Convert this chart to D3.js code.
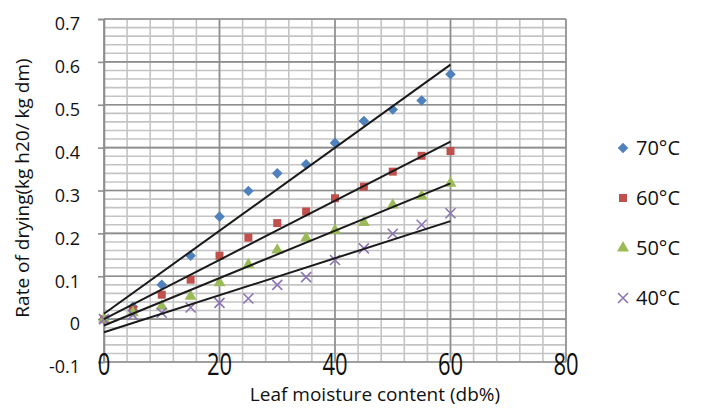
<!DOCTYPE html>
<html>
<head>
<meta charset="utf-8">
<script src="https://cdn.jsdelivr.net/npm/d3@7"></script>
<style>
  body { margin: 0; background: #fff; }
  text { font-family: "Open Sans", sans-serif; fill: #111; }
</style>
</head>
<body>
<div id="chart"></div>
<script>
// leaf moisture content (db%)
const moisture = [0, 5, 10, 15, 20, 25, 30, 35, 40, 45, 50, 55, 60];
// rate of drying per temperature
const rate70 = [0, 0.029, 0.08, 0.148, 0.239, 0.299, 0.34, 0.361, 0.411, 0.462, 0.489, 0.51, 0.571];
const rate60 = [0, 0.022, 0.057, 0.092, 0.148, 0.19, 0.224, 0.251, 0.282, 0.309, 0.344, 0.381, 0.392];
const rate50 = [0, 0.015, 0.03, 0.053, 0.085, 0.127, 0.161, 0.189, 0.207, 0.225, 0.266, 0.287, 0.317];
const rate40 = [0, 0.01, 0.015, 0.027, 0.038, 0.048, 0.08, 0.098, 0.138, 0.165, 0.199, 0.22, 0.247];
const seriesNames = ["70°C", "60°C", "50°C", "40°C"];
const xTicks = [0, 20, 40, 60, 80];
const yTicks = [-0.1, 0, 0.1, 0.2, 0.3, 0.4, 0.5, 0.6, 0.7];

const series = [
  { name: seriesNames[0], values: rate70, color: "#4f81bd", symbol: "diamond" },
  { name: seriesNames[1], values: rate60, color: "#c0504d", symbol: "square" },
  { name: seriesNames[2], values: rate50, color: "#9bbb59", symbol: "triangle" },
  { name: seriesNames[3], values: rate40, color: "#8c74b4", symbol: "cross" }
];

const width = 701, height = 409;
const plot = { left: 104, right: 566, top: 19, bottom: 362 };

const x = d3.scaleLinear().domain([0, 80]).range([plot.left, plot.right]);
const y = d3.scaleLinear().domain([-0.1, 0.7]).range([plot.bottom, plot.top]);

const svg = d3.select("#chart").append("svg")
  .attr("width", width)
  .attr("height", height);

// minor grid
const grid = svg.append("g");
grid.selectAll(".vminor")
  .data(d3.range(0, 81, 4))
  .enter().append("line")
  .attr("x1", d => x(d)).attr("x2", d => x(d))
  .attr("y1", plot.top).attr("y2", plot.bottom)
  .attr("stroke", "#c4c4c4").attr("stroke-width", 1.6);
grid.selectAll(".hminor")
  .data(d3.range(-0.1, 0.7001, 0.02))
  .enter().append("line")
  .attr("x1", plot.left).attr("x2", plot.right)
  .attr("y1", d => y(d)).attr("y2", d => y(d))
  .attr("stroke", "#c4c4c4").attr("stroke-width", 1.6);

// major grid
grid.selectAll(".vmajor")
  .data(xTicks)
  .enter().append("line")
  .attr("x1", d => x(d)).attr("x2", d => x(d))
  .attr("y1", plot.top).attr("y2", plot.bottom)
  .attr("stroke", "#8e8e8e").attr("stroke-width", 1.6);
grid.selectAll(".hmajor")
  .data(yTicks)
  .enter().append("line")
  .attr("x1", plot.left).attr("x2", plot.right)
  .attr("y1", d => y(d)).attr("y2", d => y(d))
  .attr("stroke", "#8e8e8e").attr("stroke-width", 1.6);

// y axis
const yAxis = svg.append("g")
  .attr("transform", `translate(${plot.left},0)`)
  .call(d3.axisLeft(y).tickValues(yTicks).tickSize(6).tickPadding(18)
    .tickFormat(d => String(+d.toFixed(1))));
yAxis.select(".domain").attr("stroke", "#8e8e8e").attr("stroke-width", 1.6);
yAxis.selectAll(".tick line").attr("stroke", "#8e8e8e").attr("stroke-width", 1.6);
yAxis.selectAll(".tick text")
  .style("font-size", "18px")
  .attr("dy", "0.6em")
  .style("font-family", "'Open Sans', sans-serif");

// x tick labels sit on the bottom line, stretched a bit vertically like the picture
svg.append("g").selectAll("text")
  .data(xTicks)
  .enter().append("text")
  .attr("transform", d => `translate(${x(d)},${plot.bottom + 2}) scale(1,1.4)`)
  .attr("text-anchor", "middle")
  .attr("dy", "0.36em")
  .style("font-size", "22px")
  .text(d => d);

// axis titles
svg.append("text")
  .attr("x", 375).attr("y", 401)
  .attr("text-anchor", "middle")
  .style("font-size", "19px")
  .text("Leaf moisture content (db%)");

svg.append("text")
  .attr("transform", "translate(29,188) rotate(-90)")
  .attr("text-anchor", "middle")
  .style("font-size", "19px")
  .text("Rate of drying(kg h20/ kg dm)");

// symbol path for a marker
function marker(sel, s, size) {
  if (s.symbol === "cross") {
    sel.append("path")
      .attr("d", `M${-size},${-size}L${size},${size}M${-size},${size}L${size},${-size}`)
      .attr("stroke", s.color).attr("stroke-width", 1.6).attr("fill", "none");
  } else if (s.symbol === "diamond") {
    sel.append("path")
      .attr("d", d3.symbol().type(d3.symbolSquare).size(56)())
      .attr("transform", "rotate(45)")
      .attr("fill", s.color);
  } else {
    const type = { square: d3.symbolSquare, triangle: d3.symbolTriangle }[s.symbol];
    const area = { square: 64, triangle: 62 }[s.symbol];
    sel.append("path")
      .attr("d", d3.symbol().type(type).size(area)())
      .attr("fill", s.color);
  }
}

// data points
series.forEach(s => {
  const g = svg.append("g");
  s.values.forEach((v, i) => {
    const p = g.append("g").attr("transform", `translate(${x(moisture[i])},${y(v)})`);
    marker(p, s, 5);
  });
});

// linear trendlines (least squares over the points)
series.forEach(s => {
  const mx = d3.mean(moisture), my = d3.mean(s.values);
  const slope = d3.sum(moisture, (m, i) => (m - mx) * (s.values[i] - my)) /
    d3.sum(moisture, m => (m - mx) * (m - mx));
  const icpt = my - slope * mx;
  const ends = [moisture[0], moisture[moisture.length - 1]];
  svg.append("path")
    .attr("d", d3.line().x(d => x(d)).y(d => y(icpt + slope * d))(ends))
    .attr("stroke", "#1a1a1a").attr("stroke-width", 2).attr("fill", "none");
});

// legend
const legend = svg.append("g");
series.forEach((s, i) => {
  const row = legend.append("g").attr("transform", `translate(623,${148 + i * 50})`);
  marker(row, s, 5);
  row.append("text")
    .attr("x", 13).attr("dy", "0.36em")
    .style("font-size", "20px")
    .text(s.name);
});
</script>
</body>
</html>
